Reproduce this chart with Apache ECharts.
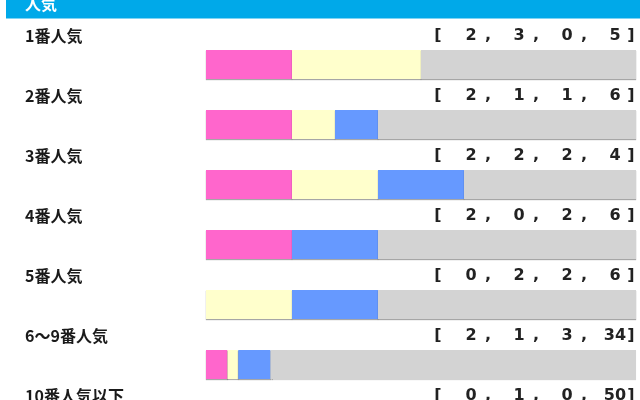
<!DOCTYPE html>
<html lang="ja">
<head>
<meta charset="utf-8">
<title>人気</title>
<script src="https://cdn.jsdelivr.net/npm/echarts@6/dist/echarts.min.js"></script>
<style>
  html, body { margin: 0; padding: 0; background: #fff; }
  #main { width: 640px; height: 400px; }
</style>
</head>
<body>
<div id="main"></div>
<script>
// 人気別成績 [1着, 2着, 3着, 着外]
var categories = ['1番人気', '2番人気', '3番人気', '4番人気', '5番人気', '6〜9番人気', '10番人気以下'];
var firstPlace  = [2, 2, 2, 2, 0, 2, 0];
var secondPlace = [3, 1, 2, 0, 2, 1, 1];
var thirdPlace  = [0, 1, 2, 2, 2, 3, 0];
var outOfPlace  = [5, 6, 4, 6, 6, 34, 50];

var colors = ['#ff66cc', '#ffffcc', '#6699ff', '#d3d3d3'];
var FONT = '"Noto Sans CJK JP", "DejaVu Sans", sans-serif';

var rows = [firstPlace, secondPlace, thirdPlace, outOfPlace];
var totals = categories.map(function (c, i) {
    return firstPlace[i] + secondPlace[i] + thirdPlace[i] + outOfPlace[i];
});

// 帯グラフは割合で描く
function pct(arr) {
    return arr.map(function (v, i) { return v / totals[i] * 100; });
}

// 右側の [ a , b , c , d ] 表記
function bracket(value, index) {
    var s = '{l|[}{s| }';
    for (var k = 0; k < 4; k++) {
        s += '{d|' + rows[k][index] + '}';
        if (k < 3) s += '{c|,}{s| }';
    }
    return s + '{r|]}';
}

var numStyle = { fontFamily: '"DejaVu Sans", sans-serif', fontWeight: 'bold', fontSize: 16, color: '#222' };
function rs(extra) {
    var o = {};
    for (var key in numStyle) o[key] = numStyle[key];
    for (var key2 in extra) o[key2] = extra[key2];
    return o;
}

var myChart = echarts.init(document.getElementById('main'));

var series = rows.map(function (arr, k) {
    return {
        type: 'bar',
        stack: 'total',
        barWidth: 29,
        data: pct(arr),
        itemStyle: {
            color: colors[k],
            shadowColor: 'rgba(0,0,0,0.35)',
            shadowBlur: 1,
            shadowOffsetY: 1
        },
        emphasis: { disabled: true }
    };
});

var option = {
    animation: false,
    backgroundColor: '#fff',
    grid: { left: 206, top: 34.5, width: 430, height: 420, outerBoundsMode: 'none', containLabel: false },
    xAxis: { type: 'value', min: 0, max: 100, show: false },
    yAxis: [
        {
            type: 'category',
            data: categories,
            inverse: true,
            axisLine: { show: false },
            axisTick: { show: false },
            splitLine: { show: false },
            axisLabel: {
                align: 'left',
                margin: 181,
                padding: [0, 0, 57, 0],
                formatter: function (v) { return '{t|' + v + '}'; },
                rich: {
                    t: { fontFamily: FONT, fontSize: 16, fontWeight: 'bold', color: '#1a1a1a' }
                }
            }
        },
        {
            type: 'category',
            position: 'right',
            data: categories,
            inverse: true,
            axisLine: { show: false },
            axisTick: { show: false },
            splitLine: { show: false },
            axisLabel: {
                align: 'right',
                margin: 0,
                padding: [0, 0, 57, 0],
                formatter: bracket,
                rich: {
                    l: rs({ width: 16, align: 'center' }),
                    s: rs({ width: 14 }),
                    d: rs({ width: 22, align: 'center' }),
                    c: rs({ width: 12, align: 'center' }),
                    r: rs({ width: 10, align: 'center' })
                }
            }
        }
    ],
    graphic: [
        {
            type: 'rect',
            left: 6,
            top: 0,
            shape: { width: 634, height: 18.5 },
            style: { fill: '#00a9e9' }
        },
        {
            type: 'text',
            x: 25,
            y: 4,
            style: {
                text: '人気',
                fill: '#fff',
                font: 'bold 16px ' + FONT,
                verticalAlign: 'middle'
            }
        }
    ],
    series: series
};

myChart.setOption(option);
</script>
</body>
</html>
